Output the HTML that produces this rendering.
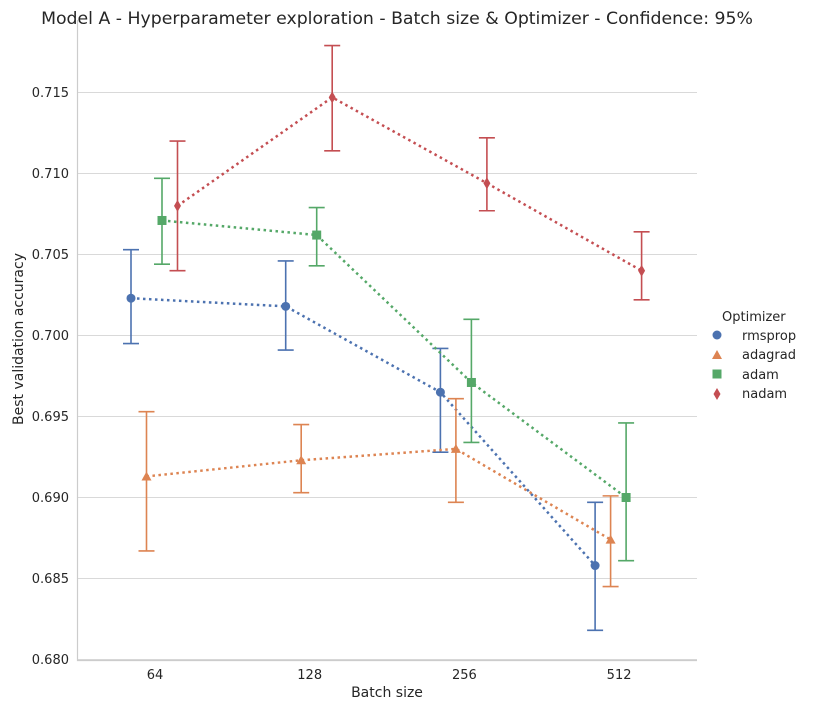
<!DOCTYPE html>
<html><head><meta charset="utf-8"><style>
body{margin:0;background:#fff;font-family:"Liberation Sans","DejaVu Sans",sans-serif;}
svg text{font-family:"DejaVu Sans","Liberation Sans",sans-serif;fill:#262626;}
</style></head><body>
<svg id="chart" width="825" height="708"></svg>
<script>
const categories=["64","128","256","512"];
const seriesNames=["rmsprop","adagrad","adam","nadam"];
const rmsprop=[0.7023,0.7018,0.6965,0.6858];
const rmspropLo=[0.6995,0.6991,0.6928,0.6818];
const rmspropHi=[0.7053,0.7046,0.6992,0.6897];
const adagrad=[0.6913,0.6923,0.6930,0.6874];
const adagradLo=[0.6867,0.6903,0.6897,0.6845];
const adagradHi=[0.6953,0.6945,0.6961,0.6901];
const adam=[0.7071,0.7062,0.6971,0.6900];
const adamLo=[0.7044,0.7043,0.6934,0.6861];
const adamHi=[0.7097,0.7079,0.7010,0.6946];
const nadam=[0.7080,0.7147,0.7094,0.7040];
const nadamLo=[0.7040,0.7114,0.7077,0.7022];
const nadamHi=[0.7120,0.7179,0.7122,0.7064];
const yTicks=[0.680,0.685,0.690,0.695,0.700,0.705,0.710,0.715];

const NS="http://www.w3.org/2000/svg";
const svg=document.getElementById('chart');
function el(t,a,p){const e=document.createElementNS(NS,t);for(const k in a)e.setAttribute(k,a[k]);(p||svg).appendChild(e);return e;}
const y=v=>659.5-(v-0.68)*16200;
const x=i=>155+i*154.7;
const colors=["#4c72b0","#dd8452","#55a868","#c44e52"];
const offs=[-24,-8.5,7,22.5];
const data=[[rmsprop,rmspropLo,rmspropHi],[adagrad,adagradLo,adagradHi],[adam,adamLo,adamHi],[nadam,nadamLo,nadamHi]];

yTicks.forEach(t=>{
 const g=el('line',{x1:77,x2:697,y1:y(t),y2:y(t),stroke:'#d9d9d9','stroke-width':1});
 
 const tx=el('text',{x:69,y:y(t)+4.5,'text-anchor':'end','font-size':13});
 tx.textContent=t.toFixed(3);
 
});
categories.forEach((c,i)=>{
 const tx=el('text',{x:x(i),y:679,'text-anchor':'middle','font-size':13});tx.textContent=c;
 
});
const ax=el('path',{d:'M77.5 20V660.5H697',stroke:'#cccccc',fill:'none','stroke-width':1.2});


function marker(s,cx,cy,par){
 let m;
 if(s===0)m=el('circle',{cx,cy,r:4.5,fill:colors[0]},par);
 else if(s===1)m=el('polygon',{points:`${cx},${cy-5} ${cx+5},${cy+4} ${cx-5},${cy+4}`,fill:colors[1]},par);
 else if(s===2)m=el('rect',{x:cx-4.5,y:cy-4.5,width:9,height:9,fill:colors[2]},par);
 else m=el('polygon',{points:`${cx},${cy-6} ${cx+3.5},${cy} ${cx},${cy+6} ${cx-3.5},${cy}`,fill:colors[3]},par);
 return m;
}
data.forEach((d,s)=>{
 const g=el('g',{});
 
 const pts=d[0].map((v,i)=>`${x(i)+offs[s]},${y(v)}`).join(' ');
 const pl=el('polyline',{points:pts,fill:'none',stroke:colors[s],'stroke-width':2.5,'stroke-dasharray':'2.5,3.5'},g);
 
 d[0].forEach((v,i)=>{
  const cx=x(i)+offs[s];
  const eb=el('path',{d:`M${cx} ${y(d[1][i])}V${y(d[2][i])}M${cx-8} ${y(d[1][i])}H${cx+8}M${cx-8} ${y(d[2][i])}H${cx+8}`,stroke:colors[s],'stroke-width':1.6,fill:'none'},g);
  
  const m=marker(s,cx,y(v),g);
  
 });
});
</script>
<svg style="position:absolute;left:0;top:0" width="825" height="708">
<text x="397" y="24" text-anchor="middle" font-size="17.3">Model A - Hyperparameter exploration - Batch size &amp; Optimizer - Confidence: 95%</text>
<text x="387" y="697" text-anchor="middle" font-size="14">Batch size</text>
<text transform="translate(23,339) rotate(-90)" text-anchor="middle" font-size="14">Best validation accuracy</text>
<g font-size="13">
<text x="722" y="321">Optimizer</text>
<g><circle cx="717" cy="335" r="4.5" fill="#4c72b0"/><text x="742" y="340">rmsprop</text></g>
<g><polygon points="717,350 722,359 712,359" fill="#dd8452"/><text x="742" y="359">adagrad</text></g>
<g><rect x="712.5" y="369.5" width="9" height="9" fill="#55a868"/><text x="742" y="379">adam</text></g>
<g><polygon points="717,388 720.5,394 717,400 713.5,394" fill="#c44e52"/><text x="742" y="398">nadam</text></g>
</g>
</svg>
</body></html>
